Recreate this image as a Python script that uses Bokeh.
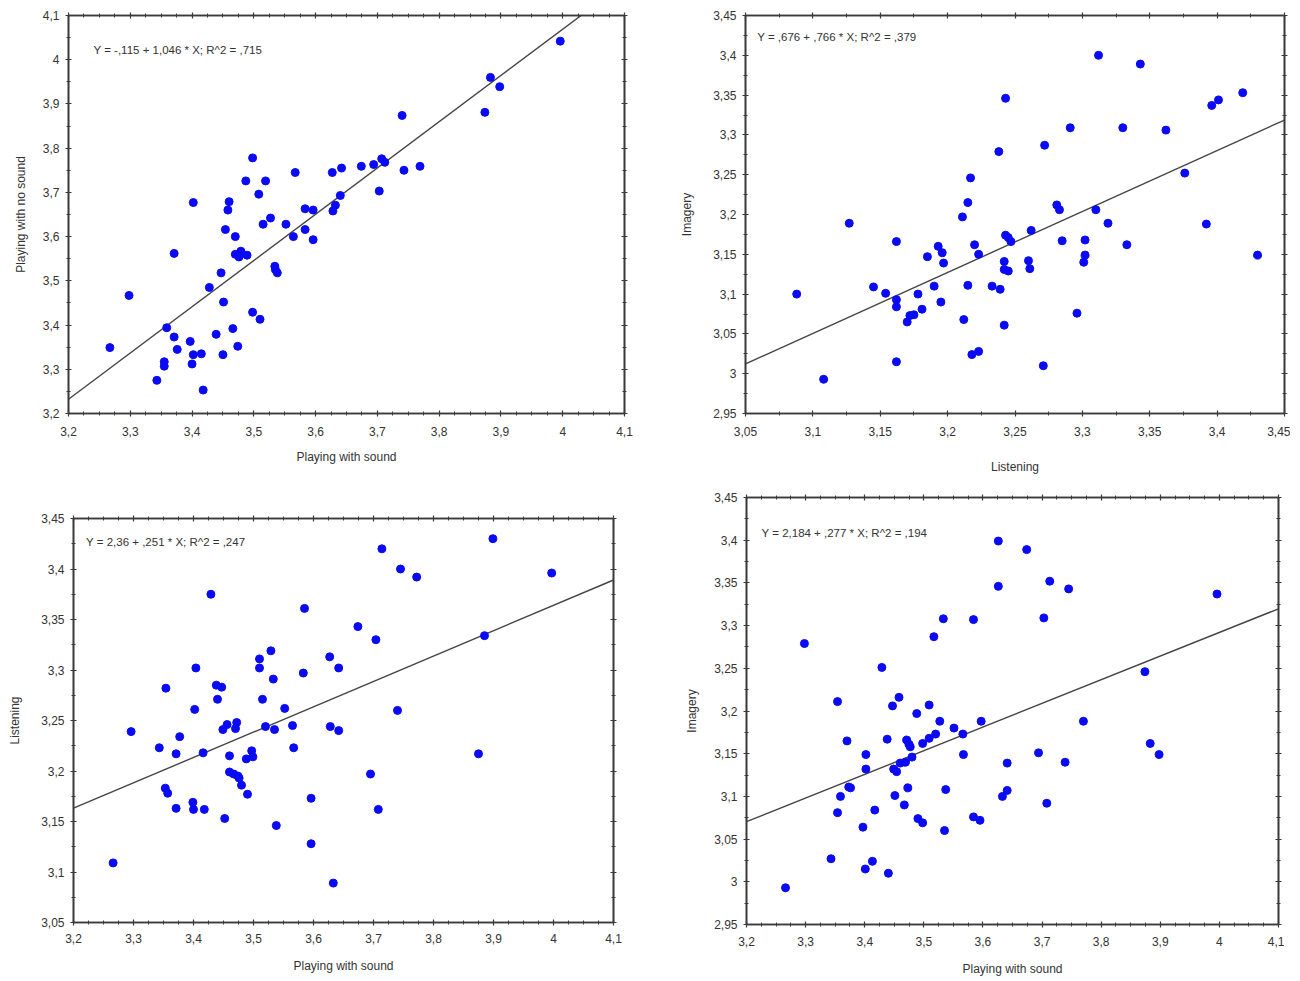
from bokeh.plotting import figure
from bokeh.layouts import column, row
from bokeh.models import Range1d, LinearAxis, FixedTicker, CustomJSTickFormatter, Label
from bokeh.embed import file_html
from bokeh.resources import INLINE

# ---------------- data ----------------
# Panel 1: Playing with sound (x) vs Playing with no sound (y)
p1_x = [3.996, 3.883, 3.898, 3.874, 3.740, 3.498, 3.707, 3.712, 3.694, 3.674, 3.769, 3.642, 3.743,
        3.567, 3.627, 3.487, 3.519, 3.508, 3.703, 3.640, 3.402, 3.460, 3.458, 3.632, 3.628, 3.583,
        3.596, 3.527, 3.515, 3.552, 3.454, 3.583, 3.470, 3.564, 3.596, 3.371, 3.470, 3.479, 3.476,
        3.489, 3.534, 3.535, 3.538, 3.447, 3.428, 3.298, 3.451, 3.498, 3.510, 3.359, 3.466, 3.439,
        3.371, 3.397, 3.474, 3.267, 3.376, 3.402, 3.415, 3.450, 3.355, 3.355, 3.400, 3.343, 3.418]
p1_y = [4.042, 3.960, 3.939, 3.881, 3.874, 3.778, 3.776, 3.768, 3.763, 3.759, 3.759, 3.755, 3.750,
        3.745, 3.745, 3.726, 3.726, 3.696, 3.703, 3.693, 3.677, 3.679, 3.660, 3.671, 3.658, 3.663,
        3.660, 3.642, 3.628, 3.628, 3.616, 3.616, 3.600, 3.600, 3.593, 3.562, 3.560, 3.567, 3.554,
        3.558, 3.533, 3.525, 3.518, 3.518, 3.485, 3.467, 3.452, 3.429, 3.413, 3.394, 3.392, 3.379,
        3.373, 3.363, 3.352, 3.349, 3.345, 3.333, 3.335, 3.333, 3.317, 3.307, 3.312, 3.275, 3.253]

# Panel 2: Listening (x) vs Imagery (y)
p2_x = [3.312, 3.343, 3.243, 3.419, 3.401, 3.396, 3.291, 3.330, 3.362, 3.272, 3.238, 3.376, 3.217,
        3.215, 3.281, 3.283, 3.310, 3.211, 3.127, 3.319, 3.392, 3.262, 3.243, 3.245, 3.247, 3.162,
        3.285, 3.302, 3.220, 3.333, 3.193, 3.196, 3.223, 3.302, 3.430, 3.185, 3.197, 3.242, 3.260,
        3.301, 3.242, 3.245, 3.261, 3.215, 3.190, 3.233, 3.239, 3.145, 3.088, 3.154, 3.178, 3.162,
        3.195, 3.162, 3.181, 3.175, 3.172, 3.170, 3.296, 3.212, 3.242, 3.223, 3.218, 3.162, 3.271,
        3.108]
p2_y = [3.400, 3.389, 3.346, 3.353, 3.344, 3.337, 3.309, 3.309, 3.306, 3.287, 3.279, 3.252, 3.246,
        3.215, 3.212, 3.206, 3.206, 3.197, 3.189, 3.189, 3.188, 3.180, 3.174, 3.171, 3.166, 3.166,
        3.167, 3.168, 3.162, 3.162, 3.160, 3.152, 3.150, 3.149, 3.149, 3.147, 3.139, 3.141, 3.142,
        3.140, 3.131, 3.129, 3.132, 3.111, 3.110, 3.110, 3.106, 3.109, 3.100, 3.101, 3.100, 3.093,
        3.090, 3.084, 3.081, 3.074, 3.073, 3.065, 3.076, 3.068, 3.061, 3.028, 3.024, 3.015, 3.010,
        2.993]

# Panel 3: Playing with sound (x) vs Listening (y)
p3_x = [3.899, 3.714, 3.745, 3.772, 3.997, 3.429, 3.585, 3.674, 3.704, 3.885, 3.529, 3.627, 3.510,
        3.404, 3.510, 3.642, 3.583, 3.533, 3.438, 3.447, 3.354, 3.440, 3.515, 3.552, 3.402, 3.740,
        3.472, 3.456, 3.565, 3.520, 3.628, 3.470, 3.449, 3.535, 3.642, 3.296, 3.377, 3.343, 3.567,
        3.497, 3.416, 3.371, 3.875, 3.460, 3.488, 3.499, 3.460, 3.467, 3.474, 3.476, 3.695, 3.480,
        3.353, 3.357, 3.490, 3.596, 3.399, 3.371, 3.400, 3.418, 3.708, 3.452, 3.538, 3.596, 3.266,
        3.633]
p3_y = [3.430, 3.420, 3.400, 3.392, 3.396, 3.375, 3.361, 3.343, 3.330, 3.334, 3.319, 3.313, 3.311,
        3.302, 3.302, 3.302, 3.297, 3.291, 3.285, 3.283, 3.282, 3.271, 3.271, 3.262, 3.261, 3.260,
        3.248, 3.246, 3.245, 3.244, 3.244, 3.242, 3.241, 3.241, 3.240, 3.239, 3.234, 3.223, 3.223,
        3.220, 3.218, 3.217, 3.217, 3.215, 3.212, 3.214, 3.199, 3.197, 3.195, 3.193, 3.197, 3.186,
        3.183, 3.178, 3.177, 3.173, 3.169, 3.163, 3.162, 3.162, 3.162, 3.153, 3.146, 3.128, 3.109,
        3.089]

# Panel 4: Playing with sound (x) vs Imagery (y)
p4_x = [3.626, 3.674, 3.713, 3.626, 3.745, 3.996, 3.533, 3.584, 3.703, 3.517, 3.298, 3.429, 3.874,
        3.458, 3.354, 3.447, 3.509, 3.488, 3.527, 3.597, 3.770, 3.551, 3.520, 3.566, 3.509, 3.370,
        3.438, 3.471, 3.498, 3.475, 3.477, 3.883, 3.694, 3.402, 3.567, 3.898, 3.480, 3.460, 3.469,
        3.641, 3.739, 3.449, 3.454, 3.402, 3.373, 3.376, 3.473, 3.537, 3.641, 3.359, 3.633, 3.451,
        3.467, 3.708, 3.354, 3.417, 3.584, 3.595, 3.490, 3.498, 3.397, 3.535, 3.343, 3.413, 3.401,
        3.440, 3.266]
p4_y = [3.399, 3.389, 3.352, 3.346, 3.343, 3.337, 3.308, 3.307, 3.309, 3.287, 3.279, 3.251, 3.246,
        3.216, 3.211, 3.206, 3.207, 3.197, 3.188, 3.188, 3.188, 3.180, 3.173, 3.173, 3.168, 3.165,
        3.167, 3.166, 3.162, 3.161, 3.158, 3.162, 3.151, 3.149, 3.149, 3.149, 3.146, 3.139, 3.140,
        3.139, 3.140, 3.132, 3.129, 3.132, 3.111, 3.110, 3.110, 3.108, 3.107, 3.100, 3.100, 3.101,
        3.090, 3.092, 3.081, 3.084, 3.076, 3.072, 3.074, 3.069, 3.064, 3.060, 3.027, 3.024, 3.015,
        3.010, 2.993]

# Regression fits (intercept, slope) as printed on the charts
fit1 = (-0.115, 1.046)
fit2 = (0.676, 0.766)
fit3 = (2.36, 0.251)
fit4 = (2.184, 0.277)

eq1 = "Y = -,115 + 1,046 * X; R^2 = ,715"
eq2 = "Y = ,676 + ,766 * X; R^2 = ,379"
eq3 = "Y = 2,36 + ,251 * X; R^2 = ,247"
eq4 = "Y = 2,184 + ,277 * X; R^2 = ,194"

# tick values
ticks_pws = [3.2, 3.3, 3.4, 3.5, 3.6, 3.7, 3.8, 3.9, 4.0, 4.1]
ticks_pns = [3.2, 3.3, 3.4, 3.5, 3.6, 3.7, 3.8, 3.9, 4.0, 4.1]
ticks_lis_x = [3.05, 3.1, 3.15, 3.2, 3.25, 3.3, 3.35, 3.4, 3.45]
ticks_img = [2.95, 3.0, 3.05, 3.1, 3.15, 3.2, 3.25, 3.3, 3.35, 3.4, 3.45]
ticks_lis_y = [3.05, 3.1, 3.15, 3.2, 3.25, 3.3, 3.35, 3.4, 3.45]

FONT = "Liberation Sans"
DOT = "#0a0af5"
AXC = "#3a3a3a"
TXT = "#333333"

fmt = CustomJSTickFormatter(code="""
let s = tick.toFixed(2);
s = s.replace(/0+$/, '').replace(/\\.$/, '');
return s.replace('.', ',');
""")


def minor_of(ticks, n):
    out = []
    for a, b in zip(ticks[:-1], ticks[1:]):
        for k in range(1, n):
            out.append(a + (b - a) * k / n)
    return out


def style_axis(ax, show_labels):
    ax.axis_line_color = AXC
    ax.axis_line_width = 1.6
    ax.major_tick_line_color = AXC
    ax.minor_tick_line_color = AXC
    ax.major_tick_line_width = 1.2
    ax.minor_tick_line_width = 1
    ax.major_tick_in = 3
    ax.major_tick_out = 3
    ax.minor_tick_in = 2
    ax.minor_tick_out = 2
    if show_labels:
        ax.formatter = fmt
        ax.major_label_text_font = FONT
        ax.major_label_text_font_size = "12px"
        ax.major_label_text_color = TXT
        ax.axis_label_text_font = FONT
        ax.axis_label_text_font_size = "12px"
        ax.axis_label_text_font_style = "normal"
        ax.axis_label_text_color = TXT
    else:
        ax.major_label_text_font_size = "0px"
        ax.major_label_text_color = None
        ax.major_label_standoff = 0


def make_panel(xs, ys, xr, yr, xt, yt, xminor, yminor, fit, eq, eqpos, xlabel, ylabel,
               fw, fh, bl, br, bt, bb, xtick_stand, xlab_stand, ylab_stand):
    p = figure(output_backend="svg", toolbar_location=None,
               frame_width=fw, frame_height=fh,
               min_border_left=bl, min_border_right=br, min_border_top=bt, min_border_bottom=bb,
               x_range=Range1d(*xr), y_range=Range1d(*yr),
               x_axis_label=xlabel, y_axis_label=ylabel)
    p.frame_align = False
    p.xgrid.visible = False
    p.ygrid.visible = False
    p.outline_line_color = AXC
    p.outline_line_width = 1.6
    p.background_fill_color = "white"
    p.border_fill_color = "white"

    p.xaxis.ticker = FixedTicker(ticks=xt, minor_ticks=minor_of(xt, xminor))
    p.yaxis.ticker = FixedTicker(ticks=yt, minor_ticks=minor_of(yt, yminor))
    for ax in p.xaxis:
        style_axis(ax, True)
        ax.major_label_standoff = xtick_stand
        ax.axis_label_standoff = xlab_stand
    for ax in p.yaxis:
        style_axis(ax, True)
        ax.major_label_standoff = 6
        ax.axis_label_standoff = ylab_stand

    top = LinearAxis(ticker=FixedTicker(ticks=xt, minor_ticks=minor_of(xt, xminor)))
    style_axis(top, False)
    p.add_layout(top, "above")
    right = LinearAxis(ticker=FixedTicker(ticks=yt, minor_ticks=minor_of(yt, yminor)))
    style_axis(right, False)
    p.add_layout(right, "right")

    b, m = fit
    lx = [xr[0], xr[1]]
    ly = [b + m * v for v in lx]
    p.line(lx, ly, line_color="#454545", line_width=1.4)

    p.scatter(xs, ys, size=8, marker="circle", fill_color=DOT, line_color=DOT)

    p.add_layout(Label(x=eqpos[0], y=eqpos[1], text=eq, text_font=FONT,
                       text_font_size="11.5px", text_color=TXT,
                       text_baseline="middle", text_align="left"))
    return p


p1 = make_panel(p1_x, p1_y, (3.2, 4.1), (3.2, 4.1), ticks_pws, ticks_pns, 4, 2, fit1, eq1,
                (3.2405, 4.021), "Playing with sound", "Playing with no sound",
                556, 398, 68, 40, 15, 68, 10, 11, 12)
p2 = make_panel(p2_x, p2_y, (3.05, 3.45), (2.95, 3.45), ticks_lis_x, ticks_img, 2, 2, fit2, eq2,
                (3.0587, 3.4228), "Listening", "Imagery",
                539, 398, 81, 6, 15, 68, 10, 21, 16)
p3 = make_panel(p3_x, p3_y, (3.2, 4.1), (3.05, 3.45), ticks_pws, ticks_lis_y, 4, 2, fit3, eq3,
                (3.221, 3.427), "Playing with sound", "Listening",
                540, 404, 73, 40, 37, 48, 8, 13, 16)
p4 = make_panel(p4_x, p4_y, (3.2, 4.1), (2.95, 3.45), ticks_pws, ticks_img, 4, 2, fit4, eq4,
                (3.2255, 3.408), "Playing with sound", "Imagery",
                532, 427, 93, 6, 16, 48, 9, 13, 12)

layout = column(row(p1, p2), row(p3, p4))

with open("out.html", "w") as f:
    f.write(file_html(layout, INLINE))
